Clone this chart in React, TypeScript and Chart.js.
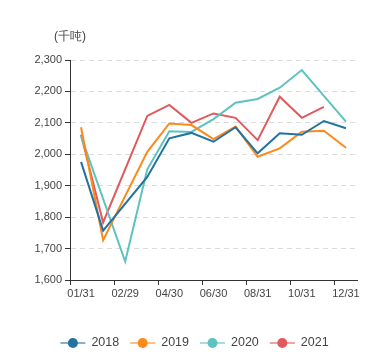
import React, { useEffect, useRef } from "react";
import { Chart, registerables } from "chart.js";

Chart.register(...registerables);

const categories = ["01/31", "02/28", "02/29", "03/31", "04/30", "05/31", "06/30", "07/31", "08/31", "09/30", "10/31", "11/30", "12/31"];
const series2018 = [1976, 1757, null, 1928, 2051, 2068, 2040, 2086, 2003, 2067, 2062, 2106, 2083];
const series2019 = [2086, 1727, null, 2008, 2098, 2093, 2048, 2088, 1992, 2019, 2072, 2075, 2021];
const series2020 = [2058, null, 1659, 1952, 2073, 2071, 2112, 2164, 2176, 2212, 2268, 2186, 2104];
const series2021 = [2062, 1783, null, 2122, 2157, 2100, 2130, 2116, 2045, 2183, 2116, 2151, null];
const seriesNames = ["2018", "2019", "2020", "2021"];
const seriesColors = ["#23729f", "#fb8a1d", "#5ec2bf", "#e05a5d"];
const yUnit = "(千吨)";
const yMin = 1600;
const yMax = 2300;
const yStep = 100;

const FONT = "'Liberation Sans', Arial, sans-serif";

const fmt = (v: number) => {
  const s = Math.round(v).toString();
  return s.replace(/\B(?=(\d{3})+(?!\d))/g, ",");
};

const extrasPlugin = {
  id: "extras",
  afterDraw(chart: any) {
    const ctx = chart.ctx;
    const area = chart.chartArea;
    ctx.save();
    // unit label
    ctx.font = `12px ${FONT}`;
    ctx.fillStyle = "#444";
    ctx.textAlign = "center";
    ctx.textBaseline = "middle";
    ctx.fillText(yUnit, area.left, 37);
    // legend
    const ds = chart.data.datasets;
    ctx.font = `12.5px ${FONT}`;
    const lineW = 25;
    const gapText = 6;
    const gapItem = 11;
    const widths = ds.map((d: any) => lineW + gapText + ctx.measureText(d.label).width);
    const total = widths.reduce((a: number, b: number) => a + b, 0) + gapItem * (ds.length - 1);
    let x = chart.width / 2 - total / 2;
    const y = 343;
    ds.forEach((d: any, i: number) => {
      ctx.globalAlpha = 0.55;
      ctx.strokeStyle = d.borderColor;
      ctx.lineWidth = 2;
      ctx.beginPath();
      ctx.moveTo(x, y);
      ctx.lineTo(x + lineW, y);
      ctx.stroke();
      ctx.globalAlpha = 1;
      ctx.fillStyle = d.borderColor;
      ctx.beginPath();
      ctx.arc(x + lineW / 2, y, 5, 0, Math.PI * 2);
      ctx.fill();
      ctx.fillStyle = "#444";
      ctx.textAlign = "left";
      ctx.textBaseline = "middle";
      ctx.fillText(d.label, x + lineW + gapText, y);
      x += widths[i] + gapItem;
    });
    ctx.restore();
  },
};

export default function App() {
  const ref = useRef<HTMLCanvasElement | null>(null);
  useEffect(() => {
    if (!ref.current) return;
    const all = [series2018, series2019, series2020, series2021];
    const chart = new Chart(ref.current, {
      type: "line",
      data: {
        labels: categories,
        datasets: all.map((s, i) => ({
          label: seriesNames[i],
          data: s,
          borderColor: seriesColors[i],
          backgroundColor: seriesColors[i],
          borderWidth: 2,
          pointRadius: 0,
          pointHoverRadius: 0,
          tension: 0,
          spanGaps: true,
          fill: false,
        })),
      },
      options: {
        responsive: false,
        animation: false,
        layout: { padding: { left: 0, right: 32, top: 60, bottom: 50 } },
        plugins: {
          legend: { display: false },
          tooltip: { enabled: false },
        },
        scales: {
          x: {
            type: "category",
            offset: true,
            grid: {
              offset: true,
              drawOnChartArea: false,
              drawTicks: true,
              tickLength: 5,
              tickWidth: 1,
              tickColor: (c: any) => (c.index % 2 === 0 || c.index === categories.length ? "#333" : "rgba(0,0,0,0)"),
            },
            border: { display: true, color: "#333", width: 1 },
            ticks: {
              autoSkip: false,
              maxRotation: 0,
              minRotation: 0,
              padding: 2,
              color: "#444",
              font: { family: FONT, size: 11 },
              callback: (v: any, i: number) => (i % 2 === 0 ? categories[i] : ""),
            },
            afterFit: (s: any) => {
              s.height = 30;
            },
          },
          y: {
            min: yMin,
            max: yMax,
            grid: {
              color: "#dcdcdc",
              lineWidth: 1,
              drawTicks: true,
              tickLength: 5,
              tickColor: "#333",
              tickBorderDash: [],
            },
            border: { display: true, color: "#333", width: 1, dash: [5, 4] },
            ticks: {
              stepSize: yStep,
              padding: 3,
              color: "#444",
              font: { family: FONT, size: 11 },
              callback: (v: any) => fmt(Number(v)),
            },
            afterFit: (s: any) => {
              s.width = 70;
            },
          },
        },
      },
      plugins: [extrasPlugin],
    });
    return () => chart.destroy();
  }, []);
  return (
    <div style={{ position: "fixed", left: 0, top: 0, width: 389, height: 360, background: "#fff" }}>
      <canvas ref={ref} width={389} height={360} style={{ width: 389, height: 360, display: "block" }} />
    </div>
  );
}
